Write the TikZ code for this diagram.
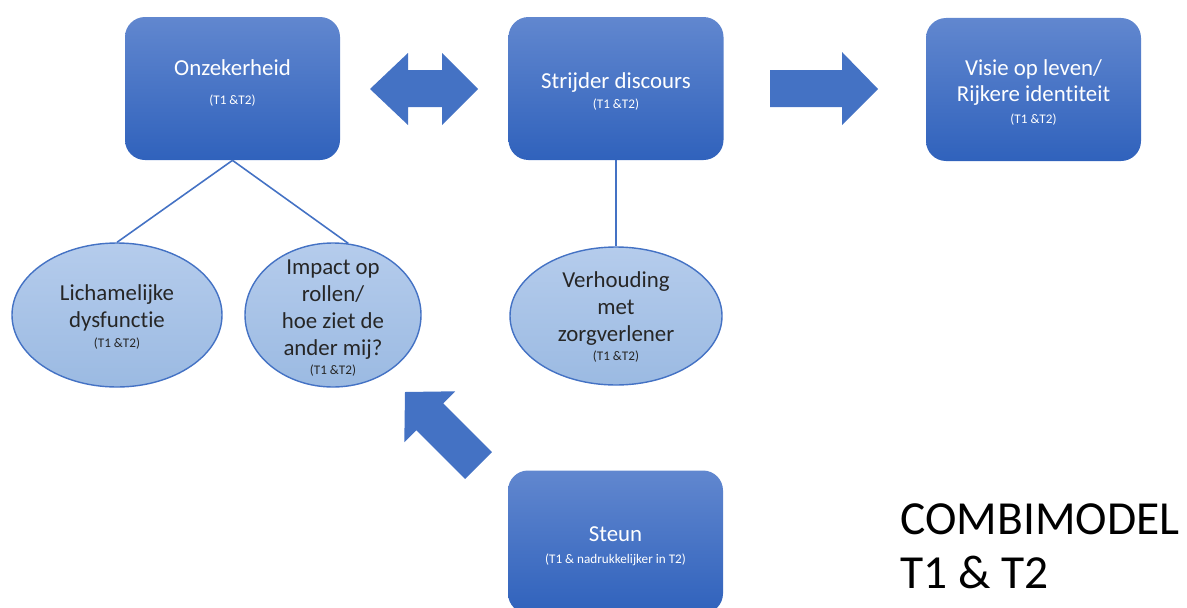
\documentclass[tikz,border=0pt]{standalone}
\usepackage{fontspec}
\setmainfont{Carlito}[Ligatures={NoCommon}]
\usepackage{xcolor}
\usetikzlibrary{shapes.geometric}

\definecolor{arrowblue}{RGB}{68,114,196}
\definecolor{boxtop}{RGB}{97,135,207}
\definecolor{boxbottom}{RGB}{48,98,188}
\definecolor{ovaltop}{RGB}{181,204,236}
\definecolor{ovalbottom}{RGB}{155,186,226}
\definecolor{ovaltext}{RGB}{38,38,38}

\newcommand{\tnote}[1]{{\fontsize{7.5}{9}\selectfont #1}}

\begin{document}
\begin{tikzpicture}[
  box/.style={rounded corners=0.4cm, minimum width=4.3cm, minimum height=2.86cm,
    top color=boxtop, bottom color=boxbottom},
  boxlabel/.style={align=center, text=white, font=\fontsize{13}{15}\selectfont},
  oval/.style={ellipse, draw=arrowblue, line width=0.8pt,
    top color=ovaltop, bottom color=ovalbottom, inner sep=0pt},
  ovallabel/.style={align=center, text=ovaltext, font=\fontsize{13}{15.4}\selectfont},
  link/.style={draw=arrowblue, line width=0.9pt},
  blockarrow/.style={fill=arrowblue}]
  \clip (0, 0) rectangle (23.74, 12.14);

  % Top row
  \node[box] (onz) at (4.65, 10.37) {};
  \node[boxlabel] (onztext) at (4.65, 10.48) {Onzekerheid\\[1pt]\tnote{(T1 \&T2)}};
  \node[box] (strijd) at (12.32, 10.37) {};
  \node[boxlabel] (strijdtext) at (12.32, 10.31) {Strijder discours\\[-3.5pt]\tnote{(T1 \&T2)}};
  \node[box] (visie) at (20.67, 10.35) {};
  \node[boxlabel] (visietext) at (20.67, 10.29)
    {Visie op leven/\\Rijkere identiteit\\[-2.5pt]\tnote{(T1 \&T2)}};

  % Ovals
  \node[oval, minimum width=4.2cm, minimum height=2.88cm] (lich) at (2.34, 5.84) {};
  \node[ovallabel] (lichtext) at (2.34, 5.80)
    {Lichamelijke\\dysfunctie\\[-4.5pt]\tnote{(T1 \&T2)}};
  \node[oval, minimum width=3.52cm, minimum height=2.88cm] (imp) at (6.66, 5.84) {};
  \node[ovallabel] (imptext) at (6.66, 5.78)
    {Impact op\\rollen/\\hoe ziet de\\ander mij?\\[-4.5pt]\tnote{(T1 \&T2)}};
  \node[oval, minimum width=4.24cm, minimum height=2.76cm] (verh) at (12.32, 5.82) {};
  \node[ovallabel] (verhtext) at (12.32, 5.80)
    {Verhouding\\met\\zorgverlener\\[-4.5pt]\tnote{(T1 \&T2)}};

  % Links
  \draw[link] (onz.south) -- (lich.north);
  \draw[link] (onz.south) -- (imp.78);
  \draw[link] (strijd.south) -- (verh.north);

  % Bottom box
  \node[box] (steun) at (12.31, 1.30) {};
  \node[boxlabel] (steuntext) at (12.31, 1.22)
    {Steun\\[-2.4pt]\tnote{(T1 \& nadrukkelijker in T2)}};

  % Block arrows
  \fill[blockarrow] (7.40, 10.36) -- (8.16, 11.08) -- (8.16, 10.74) -- (8.84, 10.74)
    -- (8.84, 11.08) -- (9.56, 10.36) -- (8.84, 9.64) -- (8.84, 10.00)
    -- (8.16, 10.00) -- (8.16, 9.64) -- cycle;
  \fill[blockarrow] (15.40, 10.74) -- (16.84, 10.74) -- (16.84, 11.10) -- (17.56, 10.36)
    -- (16.84, 9.64) -- (16.84, 10.00) -- (15.40, 10.00) -- cycle;
  \fill[blockarrow, shift={(8.10, 4.30)}, rotate=135] (0, 0) -- (-0.70, 0.72) -- (-0.70, 0.38)
    -- (-2.08, 0.38) -- (-2.08, -0.38) -- (-0.70, -0.38) -- (-0.70, -0.72) -- cycle;

  % Title
  \node[anchor=north west, inner sep=0pt, align=left, font=\fontsize{27}{30.7}\selectfont]
    (model) at (18.00, 2.08) {COMBIMODEL\\T1 \& T2};
\end{tikzpicture}
\end{document}
